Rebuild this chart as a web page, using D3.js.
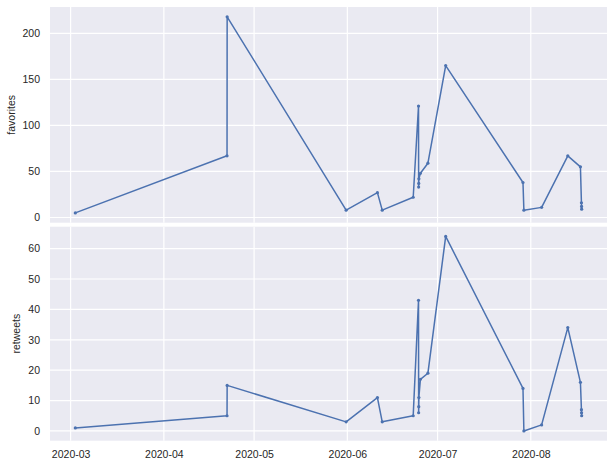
<!DOCTYPE html>
<html>
<head>
<meta charset="utf-8">
<script src="https://cdn.jsdelivr.net/npm/d3@7"></script>
<style>
  body { margin: 0; background: #fff; }
  text { font-family: Arial, "Liberation Sans", sans-serif; fill: #262626; }
</style>
</head>
<body>
<div id="chart"></div>
<script>
// tweet timestamps and counts
var dates = [
  "2020-03-02T13:26", "2020-04-22T00:00", "2020-04-22T01:00", "2020-05-31T14:24",
  "2020-06-11T00:00", "2020-06-12T14:24", "2020-06-22T21:36", "2020-06-24T16:00",
  "2020-06-24T17:00", "2020-06-24T18:00", "2020-06-24T19:00", "2020-06-25T07:00",
  "2020-06-27T19:00", "2020-07-03T16:48", "2020-07-29T09:36", "2020-07-29T16:48",
  "2020-08-04T14:24", "2020-08-13T07:12", "2020-08-17T12:00", "2020-08-17T20:00",
  "2020-08-17T21:00", "2020-08-17T22:00"
];
var favorites = [5, 67, 218, 8, 27, 8, 22, 121, 33, 37, 42, 48, 59, 165, 38, 8, 11, 67, 55, 16, 12, 9];
var retweets  = [1, 5, 15, 3, 11, 3, 5, 43, 6, 8, 11, 17, 19, 64, 14, 0, 2, 34, 16, 7, 6, 5];

var favTicks = [0, 50, 100, 150, 200];
var rtTicks = [0, 10, 20, 30, 40, 50, 60];
var monthTicks = ["2020-03-01", "2020-04-01", "2020-05-01", "2020-06-01", "2020-07-01", "2020-08-01"];

var width = 614, height = 468,
    left = 50, right = 607;

var parseTime = d3.utcParse("%Y-%m-%dT%H:%M"),
    parseDay = d3.utcParse("%Y-%m-%d");

var times = dates.map(parseTime);

function padded(ext) {
  var m = (ext[1] - ext[0]) * 0.05;
  return [+ext[0] - m, +ext[1] + m];
}

var x = d3.scaleUtc()
  .domain(padded(d3.extent(times)).map(function(t) { return new Date(t); }))
  .range([left, right]);

var svg = d3.select('#chart').append('svg')
  .attr('width', width)
  .attr('height', height);

var panels = [
  {values: favorites, ticks: favTicks, label: 'favorites', top: 7, bottom: 222.7, labelX: 11},
  {values: retweets, ticks: rtTicks, label: 'retweets', top: 226.7, bottom: 440.7, labelX: 16}
];

panels.forEach(function(p, i) {
  var y = d3.scaleLinear()
    .domain(padded(d3.extent(p.values)))
    .range([p.bottom, p.top]);

  var g = svg.append('g');

  g.append('rect')
    .attr('x', left)
    .attr('y', p.top)
    .attr('width', right - left)
    .attr('height', p.bottom - p.top)
    .attr('fill', '#eaeaf2');

  // grid
  g.selectAll('.hgrid').data(p.ticks).enter().append('line')
    .attr('x1', left).attr('x2', right)
    .attr('y1', function(d) { return y(d); })
    .attr('y2', function(d) { return y(d); })
    .attr('stroke', '#fff').attr('stroke-width', 1.2);

  g.selectAll('.vgrid').data(monthTicks.map(parseDay)).enter().append('line')
    .attr('y1', p.top).attr('y2', p.bottom)
    .attr('x1', function(d) { return x(d); })
    .attr('x2', function(d) { return x(d); })
    .attr('stroke', '#fff').attr('stroke-width', 1.2);

  // y axis
  var yAxis = d3.axisLeft(y).tickValues(p.ticks).tickSize(0).tickPadding(10);
  var ya = g.append('g').attr('transform', 'translate(' + left + ',0)').call(yAxis);
  ya.select('.domain').remove();
  ya.selectAll('text').style('font-size', '10.5px').attr('fill', '#262626');

  g.append('text')
    .attr('transform', 'translate(' + p.labelX + ',' + ((p.top + p.bottom) / 2) + ') rotate(-90)')
    .attr('text-anchor', 'middle')
    .attr('dy', '0.35em')
    .style('font-size', '10.5px')
    .text(p.label);

  // line + markers
  var line = d3.line()
    .x(function(d, j) { return x(times[j]); })
    .y(function(d) { return y(d); });

  g.append('path')
    .datum(p.values)
    .attr('d', line)
    .attr('fill', 'none')
    .attr('stroke', '#4c72b0')
    .attr('stroke-width', 1.5)
    .attr('stroke-linejoin', 'round');

  g.selectAll('.dot').data(p.values).enter().append('circle')
    .attr('cx', function(d, j) { return x(times[j]); })
    .attr('cy', function(d) { return y(d); })
    .attr('r', 1.6)
    .attr('fill', '#4c72b0');

  if (i === 1) {
    var xAxis = d3.axisBottom(x)
      .tickValues(monthTicks.map(parseDay))
      .tickFormat(d3.utcFormat('%Y-%m'))
      .tickSize(0).tickPadding(10);
    var xa = g.append('g').attr('transform', 'translate(0,' + p.bottom + ')').call(xAxis);
    xa.select('.domain').remove();
    xa.selectAll('text').style('font-size', '10.5px').attr('fill', '#262626');
  }
});
</script>
</body>
</html>
